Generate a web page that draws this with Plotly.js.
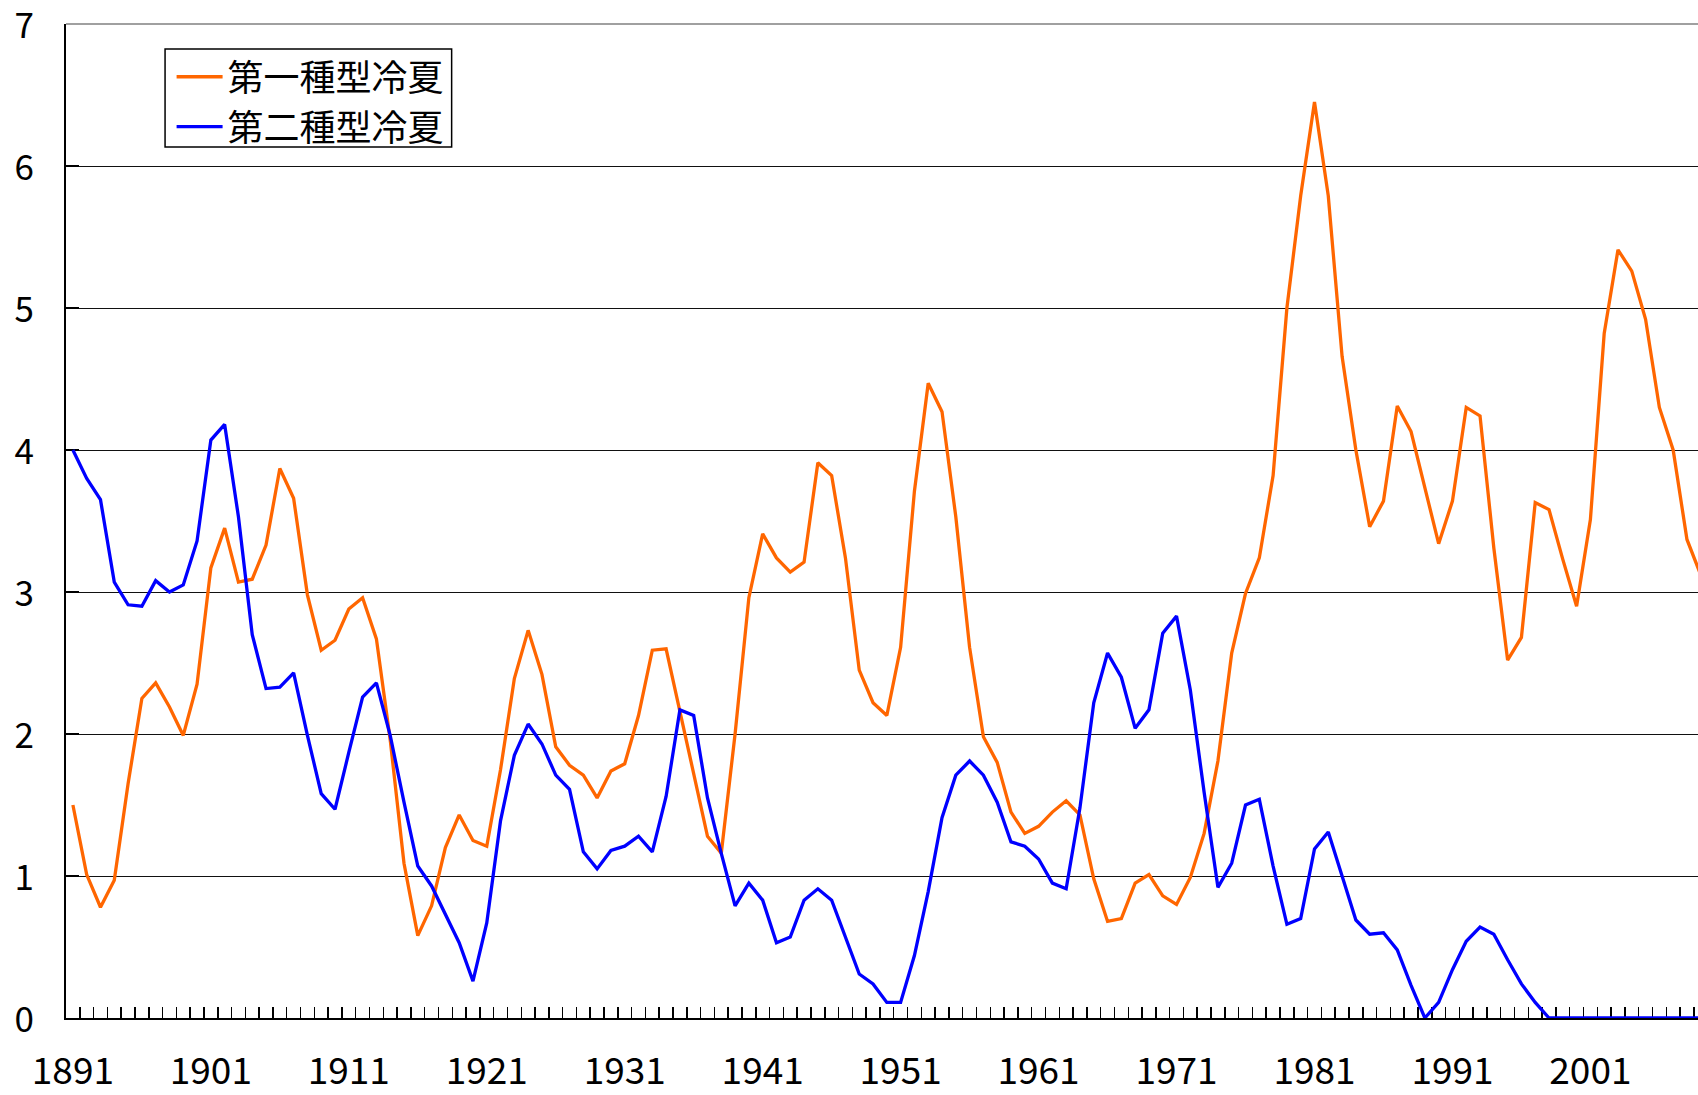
<!DOCTYPE html>
<html>
<head>
<meta charset="utf-8">
<script src="https://cdn.plot.ly/plotly-3.0.1.min.js"></script>
<style>
html,body{margin:0;padding:0;background:#fff;}
#chart{width:1698px;height:1095px;}
</style>
</head>
<body>
<div id="chart"></div>
<script>
const years = [
1891,1892,1893,1894,1895,1896,1897,1898,1899,1900,
1901,1902,1903,1904,1905,1906,1907,1908,1909,1910,
1911,1912,1913,1914,1915,1916,1917,1918,1919,1920,
1921,1922,1923,1924,1925,1926,1927,1928,1929,1930,
1931,1932,1933,1934,1935,1936,1937,1938,1939,1940,
1941,1942,1943,1944,1945,1946,1947,1948,1949,1950,
1951,1952,1953,1954,1955,1956,1957,1958,1959,1960,
1961,1962,1963,1964,1965,1966,1967,1968,1969,1970,
1971,1972,1973,1974,1975,1976,1977,1978,1979,1980,
1981,1982,1983,1984,1985,1986,1987,1988,1989,1990,
1991,1992,1993,1994,1995,1996,1997,1998,1999,2000,
2001,2002,2003,2004,2005,2006,2007,2008,2009];

const type1Name = "第一種型冷夏";
const type1 = [
1.50,1.01,0.78,0.97,1.65,2.25,2.36,2.19,1.99,2.35,
3.17,3.45,3.07,3.09,3.33,3.87,3.66,2.98,2.59,2.66,
2.88,2.96,2.67,1.96,1.09,0.58,0.79,1.20,1.43,1.25,
1.21,1.75,2.39,2.73,2.42,1.91,1.78,1.71,1.55,1.74,
1.79,2.13,2.59,2.60,2.16,1.71,1.28,1.16,2.00,2.96,
3.41,3.24,3.14,3.21,3.91,3.82,3.24,2.45,2.22,2.13,
2.61,3.71,4.47,4.27,3.53,2.61,1.98,1.80,1.45,1.30,
1.35,1.45,1.53,1.43,0.98,0.68,0.70,0.95,1.01,0.86,
0.80,0.99,1.30,1.81,2.57,2.99,3.24,3.82,5.00,5.79,
6.45,5.79,4.66,4.00,3.46,3.64,4.31,4.13,3.73,3.34,
3.64,4.30,4.24,3.31,2.52,2.68,3.63,3.58,3.23,2.90,
3.51,4.82,5.41,5.26,4.92,4.30,4.00,3.37,3.12];

const type2Name = "第二種型冷夏";
const type2 = [
4.00,3.80,3.65,3.07,2.91,2.90,3.08,3.00,3.05,3.36,
4.07,4.18,3.53,2.70,2.32,2.33,2.43,1.99,1.58,1.47,
1.87,2.26,2.36,1.99,1.52,1.07,0.93,0.73,0.53,0.26,
0.67,1.39,1.85,2.07,1.93,1.71,1.61,1.17,1.05,1.18,
1.21,1.28,1.17,1.56,2.17,2.13,1.55,1.16,0.79,0.95,
0.83,0.53,0.57,0.83,0.91,0.83,0.57,0.31,0.24,0.11,
0.11,0.44,0.89,1.41,1.71,1.81,1.71,1.52,1.24,1.21,
1.12,0.95,0.91,1.48,2.22,2.57,2.40,2.04,2.17,2.71,
2.83,2.31,1.59,0.92,1.09,1.50,1.54,1.07,0.66,0.70,
1.19,1.31,1.00,0.69,0.59,0.60,0.48,0.23,0.00,0.11,
0.34,0.54,0.64,0.59,0.41,0.24,0.11,0.00,0.00,0.00,
0.00,0.00,0.00,0.00,0.00,0.00,0.00,0.00,0.00];

const xLabelYears = [1891,1901,1911,1921,1931,1941,1951,1961,1971,1981,1991,2001];
const xLabelText = ["1891","1901","1911","1921","1931","1941","1951","1961","1971","1981","1991","2001"];
const yTickVals = [0,1,2,3,4,5,6,7];
const yTickText = ["0","1","2","3","4","5","6","7"];

const numFont = "Noto Sans CJK JP, sans-serif";
const cjkFont = "Noto Sans CJK JP, sans-serif";
const xRange = [1890.5, 2008.8];

const traces = [
  {x: years, y: type1, name: type1Name, type: 'scatter', mode: 'lines',
   line: {color: '#FF6600', width: 3.3}, hoverinfo: 'x+y'},
  {x: years, y: type2, name: type2Name, type: 'scatter', mode: 'lines',
   line: {color: '#0000FF', width: 3.3}, hoverinfo: 'x+y'},
  {x: [], y: [], xaxis: 'x2', yaxis: 'y', showlegend: false, hoverinfo: 'skip', type: 'scatter', mode: 'lines'}
];

const layout = {
  width: 1698, height: 1095,
  margin: {l: 66, r: 0, t: 24, b: 77, pad: 0},
  paper_bgcolor: '#ffffff', plot_bgcolor: '#ffffff',
  font: {family: numFont, color: '#000'},
  showlegend: true,
  legend: {
    x: 0.0647, y: 0.977, xanchor: 'left', yanchor: 'top',
    bgcolor: 'rgba(0,0,0,0)', borderwidth: 0, itemwidth: 46,
    font: {family: cjkFont, size: 36, color: '#000'}
  },
  xaxis: {
    range: xRange, tickmode: 'linear', tick0: 1890.5, dtick: 1,
    ticks: 'inside', ticklen: 11, tickwidth: 1.5, tickcolor: '#000',
    showticklabels: false, showline: true, linecolor: '#000', linewidth: 2,
    showgrid: false, zeroline: false, layer: 'below traces', fixedrange: true
  },
  xaxis2: {
    overlaying: 'x', matches: 'x', anchor: 'y', side: 'bottom',
    range: xRange, tickmode: 'array', tickvals: xLabelYears, ticktext: xLabelText,
    ticks: '', showline: false, showgrid: false, zeroline: false,
    tickfont: {family: numFont, size: 37, color: '#000'},
    ticklabelstandoff: 28, ticklabeloverflow: 'allow'
  },
  yaxis: {
    range: [0, 7], tickmode: 'array', tickvals: yTickVals, ticktext: yTickText,
    ticks: 'inside', ticklen: 13, tickwidth: 1.5, tickcolor: '#000',
    showline: true, linecolor: '#000', linewidth: 2,
    showgrid: true, gridcolor: '#111', gridwidth: 1, zeroline: false,
    tickfont: {family: numFont, size: 35, color: '#000'},
    ticklabelstandoff: 23, ticklabelshift: 2, ticklabeloverflow: 'allow',
    layer: 'below traces', fixedrange: true
  },
  shapes: [
    {type: 'line', xref: 'paper', yref: 'paper', x0: 0, x1: 1, y0: 1, y1: 1,
     line: {color: '#808080', width: 1.5}, layer: 'below'},
    {type: 'rect', xref: 'paper', yref: 'paper', x0: 0.0607, x1: 0.2363, y0: 0.8763, y1: 0.9748,
     line: {color: '#000', width: 1.5}, fillcolor: 'rgba(0,0,0,0)', layer: 'above'}
  ]
};

Plotly.newPlot('chart', traces, layout, {displayModeBar: false, staticPlot: true});
</script>
</body>
</html>
